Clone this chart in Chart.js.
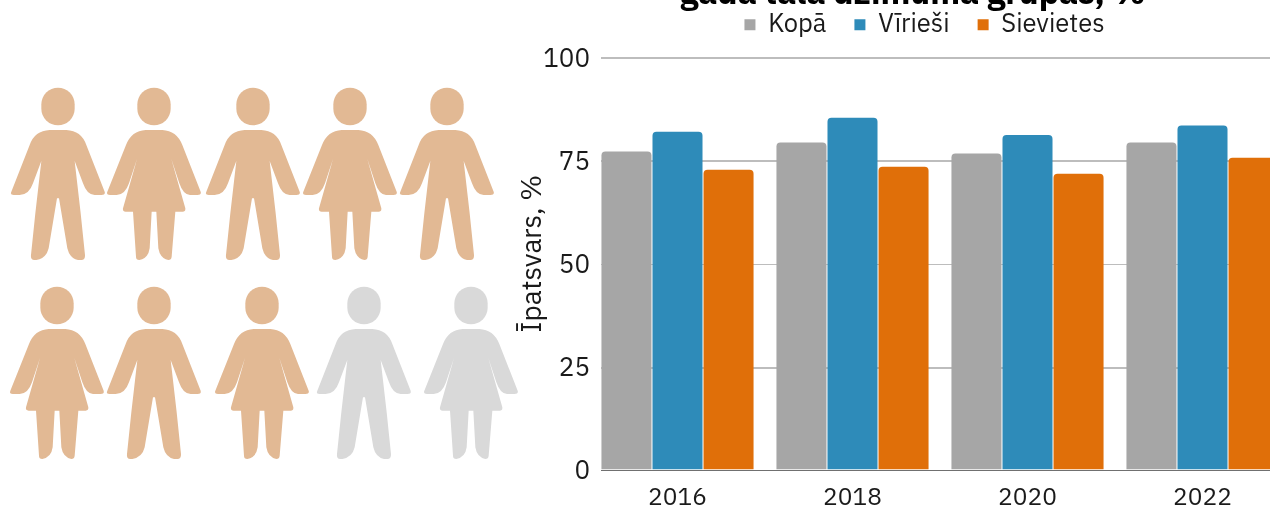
<!DOCTYPE html>
<html lang="lv">
<head>
    <meta charset="UTF-8">
    <title>Īpatsvars pa dzimuma grupām</title>
    <script src="https://cdn.jsdelivr.net/npm/chart.js@4/dist/chart.umd.js"></script>
    <style>
        html, body { margin: 0; padding: 0; background: #fff; overflow: hidden; }
        #wrap { position: absolute; left: 0; top: 0; width: 1270px; height: 507px; overflow: hidden; }
        #people { position: absolute; left: 0; top: 0; }
        #box { position: absolute; left: 500px; top: -27px; width: 867px; height: 546px; }
    </style>
</head>
<body>
<div id="wrap">
    <svg id="people" width="520" height="507">
        <defs>
            <g id="man">
                <rect x="-50" y="-127" width="100" height="113" rx="50" ry="50"/>
                <path d="M-25,0 L25,0 Q70,2 85,45 L140,185 Q143,195 130,195 L110,195 Q87,195 75,160 L50,93 L68,250 L81,375 Q82,390 70,390 L60,390 Q35,385 28,355 L3,205 L-3,205 L-28,355 Q-35,385 -65,390 L-71,390 Q-83,390 -81,375 L-68,250 L-50,93 L-75,160 Q-87,195 -115,195 L-133,195 Q-145,195 -140,185 L-85,45 Q-70,2 -25,0 Z"/>
            </g>
            <g id="woman">
                <rect x="-50" y="-127" width="100" height="113" rx="50" ry="50"/>
                <path d="M-25,0 L25,0 Q68,2 85,45 L140,185 Q143,195 130,195 L108,195 Q88,195 76,160 L52,87 L94,235 Q95,245 86,245 L64,245 L53,380 Q52,390 43,390 Q18,385 13,355 L7,245 L-7,245 L-13,355 Q-17,385 -44,390 Q-54,390 -54,380 L-63,245 L-85,245 Q-95,245 -93,235 L-51,87 L-75,160 Q-87,195 -112,195 L-132,195 Q-144,195 -140,185 L-84,45 Q-67,2 -25,0 Z"/>
            </g>
        </defs>
    </svg>
    <div id="box"><canvas id="canvas"></canvas></div>
</div>
<script>
    // Data
    const years = ['2016', '2018', '2020', '2022'];
    const kopa = [77.2, 79.4, 76.7, 79.4];
    const virieshi = [82.0, 85.4, 81.2, 83.5];
    const sievietes = [72.8, 73.5, 71.8, 75.7];
    const yTicks = [0, 25, 50, 75, 100];

    // Pictogram: 8 of 10 figures filled
    const figures = ['man', 'woman', 'man', 'woman', 'man', 'woman', 'man', 'woman', 'man', 'woman'];
    const figureX = [58, 154, 253, 350, 447, 57, 154, 262, 364, 471];
    const figureY = [130, 130, 130, 130, 130, 329, 329, 329, 329, 329];
    const filled = 8;

    const svg = document.getElementById('people');
    figures.forEach((f, i) => {
        const use = document.createElementNS('http://www.w3.org/2000/svg', 'use');
        use.setAttribute('href', '#' + f);
        use.setAttribute('transform', `translate(${figureX[i]},${figureY[i]}) scale(0.3333)`);
        use.setAttribute('fill', i < filled ? '#e2b994' : '#d9d9d9');
        svg.appendChild(use);
    });

    // Gridlines start right of the first category edge, so they are drawn here.
    // In the original the 0 and 50 lines come out 1px, the others 2px.
    const gridFromX = {
        id: 'gridFromX',
        beforeDatasetsDraw(chart) {
            const { ctx, scales } = chart;
            ctx.save();
            yTicks.forEach(t => {
                const thin = t === 0 || t === 50;
                const p = Math.round(scales.y.getPixelForValue(t));
                const y = thin ? p + 0.5 : (t === 25 ? p + 1 : p);
                ctx.strokeStyle = t === 0 ? '#707070' : '#bdbdbd';
                ctx.lineWidth = thin ? 1 : 2;
                ctx.beginPath();
                ctx.moveTo(101, y);
                ctx.lineTo(chart.width, y);
                ctx.stroke();
            });
            ctx.restore();
        }
    };

    // The legend sits close under the title, with extra room below it,
    // and both are centred a bit right of the plot
    const legendRoom = {
        id: 'legendRoom',
        beforeInit(chart) {
            const fit = chart.legend.fit;
            chart.legend.fit = function () {
                fit.call(this);
                this.height += 10;
            };
        },
        afterLayout(chart) {
            [chart.legend, chart.titleBlock].forEach(b => {
                b.left += 19.5;
                b.right += 19.5;
            });
        }
    };

    const font = 'IBM Plex Sans, "Noto Sans", sans-serif';
    const makeSet = (label, data, color) => ({
        label, data,
        backgroundColor: color,
        borderRadius: { topLeft: 4, topRight: 4 },
        borderSkipped: 'bottom',
        categoryPercentage: 0.875,
        barPercentage: 0.98
    });

    new Chart(document.getElementById('canvas'), {
        type: 'bar',
        data: {
            labels: years,
            datasets: [
                makeSet('Kopā', kopa, '#a6a6a6'),
                makeSet('Vīrieši', virieshi, '#2e8bb9'),
                makeSet('Sievietes', sievietes, '#e06f09')
            ]
        },
        plugins: [gridFromX, legendRoom],
        options: {
            responsive: true,
            maintainAspectRatio: false,
            animation: false,
            layout: { padding: { left: 20, right: 77, top: 0, bottom: 0 } },
            plugins: {
                title: {
                    display: true,
                    text: 'gada tālā dzimuma grupās, %\u00a0\u00a0\u00a0',
                    color: '#000',
                    font: { family: font, size: 33.4, weight: 'bold' },
                    padding: { top: 1, bottom: -30 }
                },
                legend: {
                    position: 'top',
                    labels: {
                        color: '#1a1a1a',
                        font: { family: font, size: 25.5 },
                        boxWidth: 11,
                        boxHeight: 11,
                        padding: 28
                    }
                },
                tooltip: { enabled: false }
            },
            scales: {
                x: {
                    grid: { display: false },
                    border: { display: false },
                    ticks: { color: '#1a1a1a', font: { family: font, size: 24.5 }, padding: 6, maxRotation: 0 }
                },
                y: {
                    min: 0,
                    max: 100,
                    afterFit(s) { s.width = 70; },
                    grid: { display: false },
                    border: { display: false },
                    afterBuildTicks(s) { s.ticks = yTicks.map(v => ({ value: v })); },
                    ticks: { color: '#1a1a1a', font: { family: font, size: 26 }, padding: -8, labelOffset: 2 },
                    title: {
                        display: true,
                        text: '\u00a0\u00a0\u00a0Īpatsvars, %',
                        color: '#1a1a1a',
                        font: { family: font, size: 28 },
                        padding: { top: -4, bottom: 0 }
                    }
                }
            }
        }
    });
</script>
</body>
</html>
